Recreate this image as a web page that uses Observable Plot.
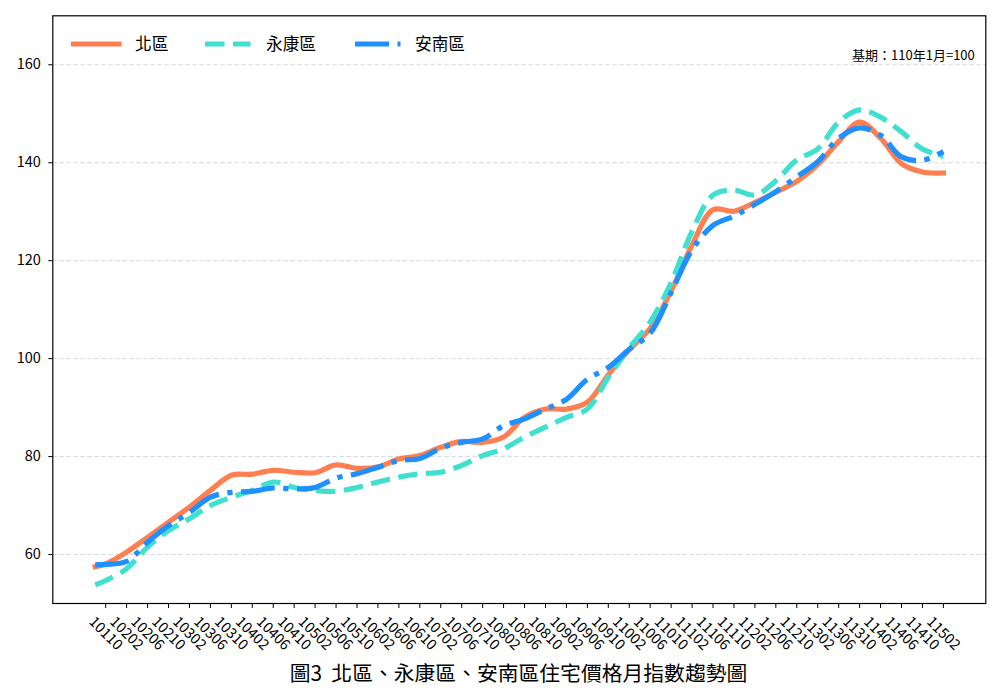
<!DOCTYPE html>
<html>
<head>
<meta charset="utf-8">
<script src="https://cdn.jsdelivr.net/npm/d3@7"></script>
<script src="https://cdn.jsdelivr.net/npm/@observablehq/plot@0.6"></script>
<style>
  body { margin: 0; background: #fff; font-family: "Noto Sans CJK TC", "Noto Sans CJK SC", sans-serif; }
  #wrap { position: relative; width: 1000px; height: 700px; overflow: hidden; }
  #chart svg { overflow: visible; }
  #legend { position: absolute; left: 0; top: 0; width: 1000px; height: 80px; pointer-events: none; }
  #caption { position: absolute; left: 52px; width: 933px; top: 660px; text-align: center;
             font-size: 20.8px; line-height: 24px; color: #000; white-space: pre; }
</style>
</head>
<body>
<div id="wrap">
  <div id="chart"></div>
  <svg id="legend" width="1000" height="80"></svg>
  <div id="caption"></div>
</div>
<script>
// ---- data (ROC year+month, index base 110年1月 = 100) ----
const months = ["10108","10110","10202","10206","10210","10302","10306","10310","10402","10406","10410",
  "10502","10506","10510","10602","10606","10610","10702","10706","10710","10802","10806","10810",
  "10902","10906","10910","11002","11006","11010","11102","11106","11110","11202","11206","11210",
  "11302","11306","11310","11402","11406","11410","11502"];
const north = [57.5, 58.1, 60.5, 63.5, 66.6, 69.7, 73.1, 76.2, 76.4, 77.2, 76.8,
  76.7, 78.3, 77.6, 77.9, 79.5, 80.2, 81.9, 83.1, 82.9, 84.0, 88.0, 89.7,
  89.7, 91.1, 96.7, 101.8, 106.2, 113.8, 123.2, 130.4, 130.1, 131.9, 134.0, 136.2,
  139.6, 144.3, 148.3, 145.0, 139.8, 138.1, 137.9];
const yongkang = [53.8, 54.7, 57.1, 61.5, 64.9, 67.3, 70.0, 71.7, 73.1, 74.8, 73.7,
  73.1, 72.9, 73.7, 74.8, 75.8, 76.5, 76.8, 78.2, 80.2, 81.6, 84.0, 86.0,
  88.0, 89.7, 96.2, 102.2, 107.5, 115.5, 126.0, 133.4, 134.4, 133.4, 136.3, 140.6,
  142.8, 148.3, 150.8, 149.3, 146.3, 142.8, 141.3];
const annan = [57.9, 58.0, 58.6, 62.5, 65.9, 68.6, 71.7, 72.7, 72.9, 73.6, 73.4,
  73.7, 75.6, 76.5, 77.8, 79.2, 79.6, 81.7, 82.9, 83.6, 86.3, 87.7, 89.7,
  91.7, 95.8, 98.2, 101.9, 105.2, 113.5, 122.2, 127.2, 129.1, 131.5, 134.1, 137.1,
  140.2, 145.0, 147.1, 145.6, 141.2, 140.5, 142.3];
const seriesNames = ["北區", "永康區", "安南區"];
const seriesColors = ["#FF7F50", "#40E0D0", "#1E90FF"];
const tickLabels = ["10110","10202","10206","10210","10302","10306","10310","10402","10406","10410",
  "10502","10506","10510","10602","10606","10610","10702","10706","10710","10802","10806","10810",
  "10902","10906","10910","11002","11006","11010","11102","11106","11110","11202","11206","11210",
  "11302","11306","11310","11402","11406","11410","11502"];
const yTicks = [60, 80, 100, 120, 140, 160];
const baseNote = "基期：110年1月=100";
const captionText = "圖3  北區、永康區、安南區住宅價格月指數趨勢圖";

// month code -> month index (0 = 101年8月)
const mIdx = s => (+s.slice(0, 3) - 101) * 12 + (+s.slice(3) - 8);

const seriesValues = [north, yongkang, annan];
const rows = seriesValues.map((vals, k) => months.map((m, i) => ({i: mIdx(m), v: vals[i], s: seriesNames[k]})));
const tickIdx = tickLabels.map(mIdx);

const first = mIdx(months[0]), last = mIdx(months[months.length - 1]);
const pad = (last - first) * 0.05;

const font = '"Noto Sans CJK TC", "Noto Sans CJK SC", sans-serif';
const dashes = [null, "19.5,8.5", "34,8.5,5.3,8.5"];
const caps = ["square", "butt", "butt"];

const chart = Plot.plot({
  width: 1000,
  height: 662,
  marginLeft: 52.3,
  marginRight: 14.7,
  marginTop: 15.3,
  marginBottom: 59,
  style: {fontFamily: font, fontSize: "14.5px", color: "#000", background: "transparent", overflow: "visible"},
  x: {domain: [first - pad, last + pad]},
  y: {domain: [50, 170]},
  marks: [
    Plot.gridY(yTicks, {stroke: "#d3dada", strokeOpacity: 1, strokeWidth: 1, strokeDasharray: "4.5,2.5"}),
    ...rows.map((r, k) => Plot.line(r, {
      x: "i", y: "v", stroke: seriesColors[k], strokeWidth: 5.2, curve: "catmull-rom",
      strokeDasharray: dashes[k], strokeLinecap: caps[k], strokeLinejoin: "round"
    })),
    Plot.frame({stroke: "#000", strokeWidth: 1.2}),
    Plot.axisY({ticks: yTicks, tickSize: 4, tickPadding: 8, label: null, fontSize: 14.5}),
    Plot.axisX({ticks: tickIdx, tickSize: 5, tickFormat: () => "", label: null}),
    Plot.text(tickIdx, {x: d => d, text: (d, i) => tickLabels[i], frameAnchor: "bottom",
      rotate: 45, textAnchor: "middle", lineAnchor: "middle", dy: 30, fontSize: 14.5, fill: "#000"}),
    Plot.text([baseNote], {frameAnchor: "top-right", dx: -11, dy: 40, lineAnchor: "middle",
      textAnchor: "end", fontSize: 13, fill: "#000"})
  ]
});
document.getElementById("chart").appendChild(chart);

// legend (overlay)
const lg = d3.select("#legend");
const lx = [[73.5, 119, 135], [205, 250.5, 266], [355, 400.5, 415]];
seriesNames.forEach((name, k) => {
  lg.append("line").attr("x1", lx[k][0]).attr("x2", lx[k][1]).attr("y1", 44).attr("y2", 44)
    .attr("stroke", seriesColors[k]).attr("stroke-width", 5.2)
    .attr("stroke-linecap", caps[k]).attr("stroke-dasharray", dashes[k]);
  lg.append("text").attr("x", lx[k][2]).attr("y", 44).attr("dy", "0.35em")
    .attr("font-family", font).attr("font-size", 16.7).attr("fill", "#000").text(name);
});
document.getElementById("caption").textContent = captionText;
</script>
</body>
</html>
